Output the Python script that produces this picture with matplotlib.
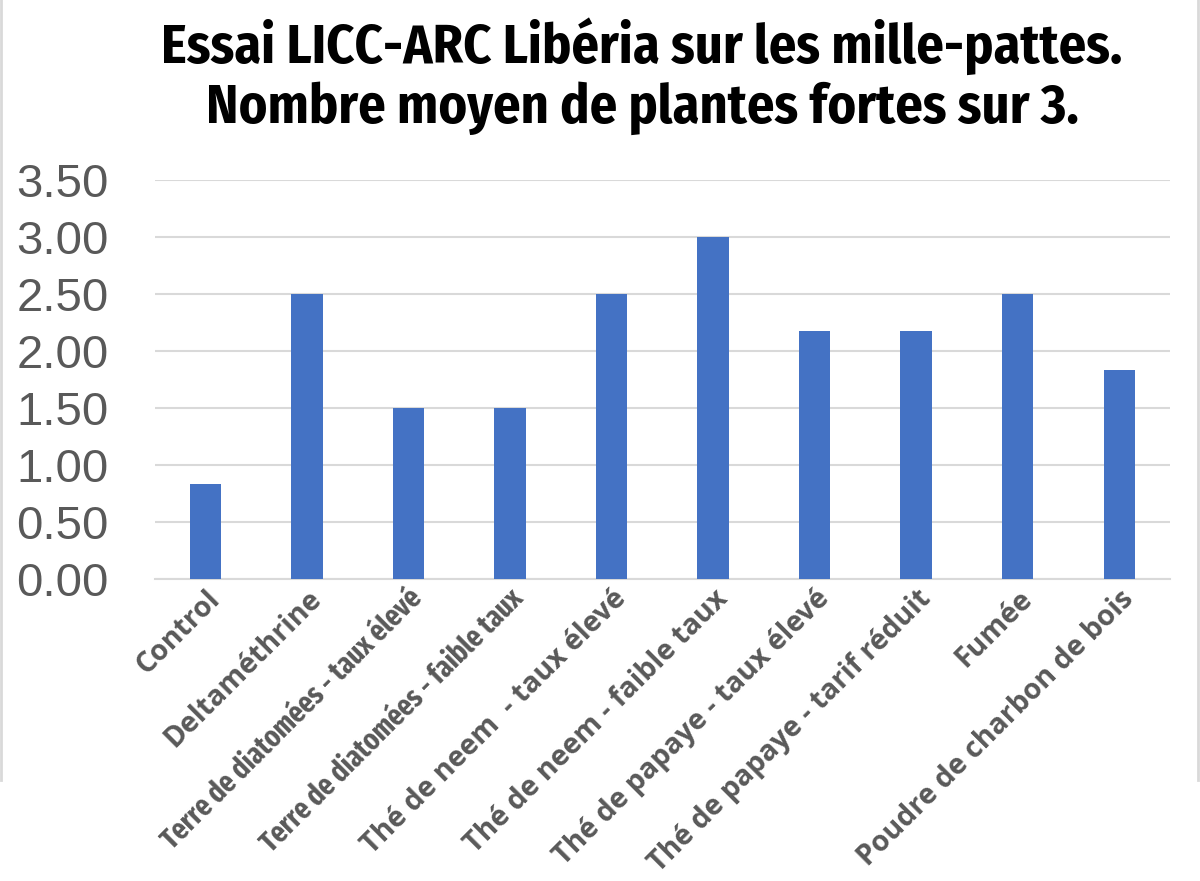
import matplotlib.pyplot as plt
from matplotlib.lines import Line2D
from matplotlib import font_manager

categories = ["Control", "Deltaméthrine", "Terre de diatomées - taux élevé",
              "Terre de diatomées - faible taux", "Thé de neem  - taux élevé",
              "Thé de neem - faible taux", "Thé de papaye - taux élevé",
              "Thé de papaye - tarif réduit", "Fumée", "Poudre de charbon de bois"]
values = [0.83, 2.50, 1.50, 1.50, 2.50, 3.00, 2.17, 2.17, 2.50, 1.83]
yticks = [0.0, 0.5, 1.0, 1.5, 2.0, 2.5, 3.0, 3.5]
title_lines = ["Essai LICC-ARC Libéria sur les mille-pattes.",
               "Nombre moyen de plantes fortes sur 3."]

have = set(f.name for f in font_manager.fontManager.ttflist)

def pick(*names):
    return [n for n in names if n in have] + ['DejaVu Sans']

title_font = pick('Fira Sans Condensed', 'Asap Condensed', 'Archivo Narrow')
label_font = pick('Open Sans')
squeeze_font = pick('Fira Sans Extra Condensed', 'Asap Condensed', 'Archivo Narrow')

fig = plt.figure(figsize=(12, 8.81), dpi=100)
ax = fig.add_axes([0.129, 0.343, 0.846, 0.453])

ax.bar(range(len(categories)), values, width=0.31, color='#4472C4', zorder=3)
ax.set_xlim(-0.5, len(categories) - 0.5)
ax.set_ylim(0, 3.5)
ax.set_yticks(yticks)
ax.set_yticklabels([f"{v:.2f}" for v in yticks], fontsize=34,
                   family=['Liberation Sans', 'DejaVu Sans'], color='#595959')
ax.set_xticks(range(len(categories)))
ax.set_xticklabels(categories, rotation=45, ha='right', rotation_mode='anchor',
                   fontsize=20.5, fontweight='bold', family=label_font,
                   fontstretch='condensed', color='#595959')
for t in ax.get_xticklabels()[2:4]:
    t.set_family(squeeze_font)
    t.set_fontsize(21)
ax.tick_params(axis='both', length=0, pad=4)
ax.tick_params(axis='y', pad=33)
ax.grid(axis='y', color='#D9D9D9', linewidth=1.5, zorder=0)
for s in ['top', 'right', 'left']:
    ax.spines[s].set_visible(False)
ax.spines['bottom'].set_color('#D9D9D9')
ax.spines['bottom'].set_linewidth(1.5)

for line, yb in zip(title_lines, [63, 123]):
    fig.text(0.535, 1 - yb / 881, line, ha='center', va='baseline',
             fontsize=39, fontweight='bold', family=title_font,
             fontstretch='condensed', color='black')

# outer chart border remnants
fig.add_artist(Line2D([0.001, 0.001], [1, 1 - 780 / 881], color='#D9D9D9', lw=2))
fig.add_artist(Line2D([0.998, 0.998], [1, 1 - 780 / 881], color='#D9D9D9', lw=2))

fig.savefig('out.png', dpi=100)
